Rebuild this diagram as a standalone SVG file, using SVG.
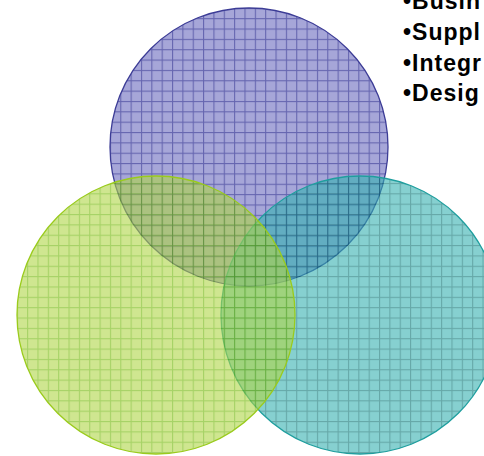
<svg xmlns="http://www.w3.org/2000/svg" width="484" height="456" viewBox="0 0 484 456">
<style>
.lbl{font-family:"Liberation Sans",Arial,sans-serif;font-weight:bold;font-size:23px;letter-spacing:1px;fill:#000}
.c{fill-opacity:0.6;stroke-width:1.3}
</style>
<defs>
<pattern id="pP" patternUnits="userSpaceOnUse" x="6.4" y="7.8" width="10.35" height="10.35">
<rect width="10.35" height="10.35" fill="#6b6bbe"/>
<rect width="10.35" height="1.1" fill="#00007b"/>
<rect width="1.1" height="10.35" fill="#00007b"/>
</pattern>
<pattern id="pG" patternUnits="userSpaceOnUse" x="6.4" y="7.0" width="10.35" height="10.35">
<rect width="10.35" height="10.35" fill="#afd546"/>
<rect width="10.35" height="1.1" fill="#6bb400"/>
<rect width="1.1" height="10.35" fill="#6bb400"/>
</pattern>
<pattern id="pT" patternUnits="userSpaceOnUse" x="6.4" y="7.0" width="10.35" height="10.35">
<rect width="10.35" height="10.35" fill="#35b1b1"/>
<rect width="10.35" height="1.1" fill="#006e6e"/>
<rect width="1.1" height="10.35" fill="#006e6e"/>
</pattern>
</defs>
<rect width="484" height="456" fill="#fff"/>
<g id="circle-purple"><circle class="c" cx="249" cy="147" r="139" fill="url(#pP)" stroke="#3c3c96"/></g>
<g id="circle-teal"><circle class="c" cx="360" cy="315" r="139" fill="url(#pT)" stroke="#1f9e9e"/></g>
<g id="circle-green"><circle class="c" cx="156" cy="315" r="139" fill="url(#pG)" stroke="#9acb1c"/></g>
<g id="bullets">
<text class="lbl" x="403" y="8.5">•Busin</text>
<text class="lbl" x="403" y="39.5">•Suppl</text>
<text class="lbl" x="403" y="70.5">•Integr</text>
<text class="lbl" x="403" y="101">•Desig</text>
</g>
<g id="connectors"/>
</svg>
